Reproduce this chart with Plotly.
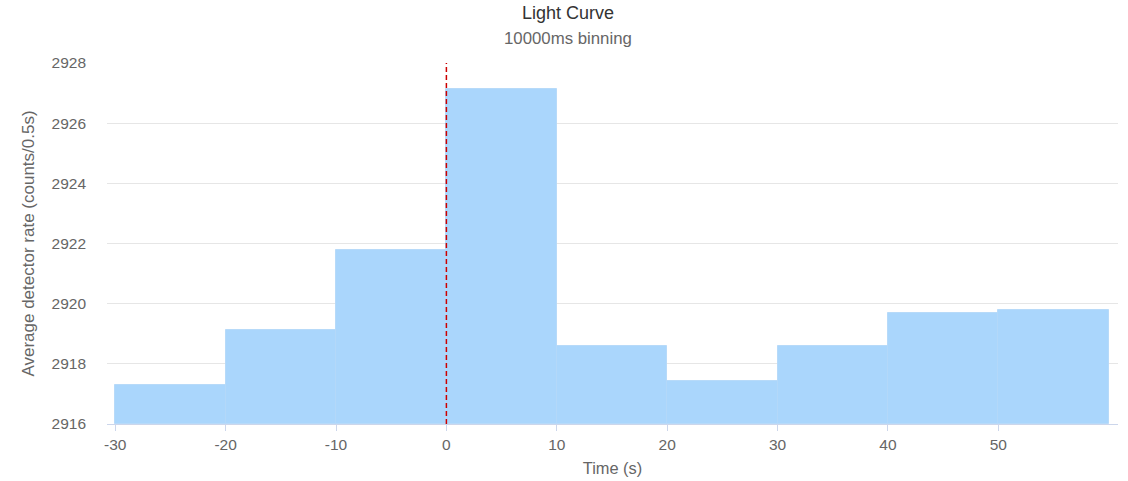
import plotly.graph_objects as go

bin_start = [-30, -20, -10, 0, 10, 20, 30, 40, 50]
rate = [2917.29, 2919.13, 2921.77, 2927.12, 2918.6, 2917.44, 2918.6, 2919.69, 2919.78]
bin_width = 10
y_ticks = [2916, 2918, 2920, 2922, 2924, 2926, 2928]
x_ticks = [-30, -20, -10, 0, 10, 20, 30, 40, 50]
trigger_time = 0

W, H = 1128, 481
L, R, T, B = 107, 10, 63, 57
ph = H - T - B

fig = go.Figure()
fig.add_trace(go.Bar(
    x=bin_start, y=[r - 2916 for r in rate], base=2916,
    width=bin_width, offset=0,
    marker=dict(color="#aad6fc", line=dict(color="rgba(180,216,248,0.9)", width=1)),
    hoverinfo="x+y", showlegend=False,
))

fig.add_shape(type="line", xref="x", yref="paper", x0=trigger_time, x1=trigger_time,
              y0=0, y1=1, line=dict(color="#cc0000", width=1.5, dash="5px,3px"))

font = "Liberation Sans, Arial, sans-serif"
fig.update_layout(
    width=W, height=H,
    margin=dict(l=L, r=R, t=T, b=B, autoexpand=False),
    paper_bgcolor="white", plot_bgcolor="white",
    font=dict(family=font, color="#666666", size=15.5),
    title=dict(text="Light Curve", x=568 / W, xref="container", xanchor="center",
               y=1 - 13 / H, yref="container", yanchor="middle",
               font=dict(size=18, color="#333333", family=font)),
    annotations=[dict(text="10000ms binning", xref="paper", yref="paper",
                      x=(568 - L) / (W - L - R), y=(H - B - 39) / ph,
                      xanchor="center", yanchor="middle", showarrow=False,
                      font=dict(size=16.8, color="#666666", family=font))],
    bargap=0,
    xaxis=dict(range=[-30.75, 60.85], tickvals=x_ticks, ticktext=[str(v) for v in x_ticks],
               showgrid=False, zeroline=False, showline=True, linecolor="#ccd6eb", linewidth=1,
               ticks="outside", ticklen=6, tickcolor="#ccd6eb", tickfont=dict(size=15.5, color="#666666"),
               title=dict(text="Time (s)", font=dict(size=16.4, color="#666666"), standoff=10)),
    yaxis=dict(range=[2916, 2928], tickvals=y_ticks, ticktext=[str(v) for v in y_ticks],
               showgrid=True, gridcolor="#e6e6e6", gridwidth=1, zeroline=False, showline=False,
               ticks="", ticklabelstandoff=20, tickfont=dict(size=15.5, color="#666666"),
               title=dict(text="Average detector rate (counts/0.5s)", font=dict(size=17, color="#666666"), standoff=12)),
)

fig.write_html("out.html", config={"displayModeBar": False},
               post_script="document.body.style.margin='0';")
